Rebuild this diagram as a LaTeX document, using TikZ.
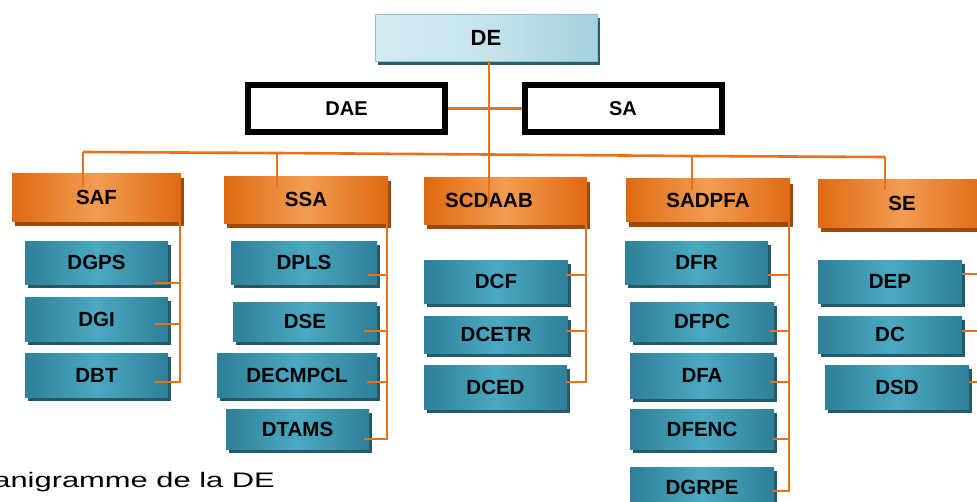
\documentclass[tikz,border=0pt]{standalone}
\usepackage{fontspec}
\setmainfont{Liberation Sans}
\usetikzlibrary{shadows,calc}

\definecolor{lineOrange}{HTML}{E8721B}
\definecolor{orgEdge}{HTML}{DF6A12}
\definecolor{orgMid}{HTML}{F39C52}
\definecolor{orgShadow}{HTML}{9A4A0B}
\definecolor{bluEdge}{HTML}{2E7F97}
\definecolor{bluMid}{HTML}{4BA9C3}
\definecolor{bluShadow}{HTML}{235A69}
\definecolor{deLeft}{HTML}{D4EBF2}
\definecolor{deRight}{HTML}{A4D2DE}
\definecolor{deBorder}{HTML}{8CC4D3}
\definecolor{deShadow}{HTML}{2A5E6C}

\begin{document}
\begin{tikzpicture}[x=1pt,y=-1pt,
  box/.style={inner sep=0pt, outer sep=0pt, text=black,
    font=\bfseries\fontsize{20.5}{24}\selectfont},
  headbox/.style={box, draw=deBorder, line width=1pt,
    left color=deLeft, right color=deRight, middle color=deLeft!70!deRight,
    general shadow={fill=deShadow, shadow xshift=3pt, shadow yshift=-4pt},
    font=\bfseries\fontsize{22}{26}\selectfont},
  staffbox/.style={box, draw=black, line width=6pt, fill=white,
    minimum width=197pt, minimum height=47pt,
    font=\bfseries\fontsize{20}{24}\selectfont},
  unitbox/.style={box, left color=orgEdge, right color=orgEdge, middle color=orgMid,
    general shadow={fill=orgShadow, shadow xshift=3pt, shadow yshift=-5pt}},
  divbox/.style={box, left color=bluEdge, right color=bluEdge, middle color=bluMid,
    general shadow={fill=bluShadow, shadow xshift=3pt, shadow yshift=-4pt}},
  branch/.style={draw=lineOrange, line width=2.6pt}
]
\useasboundingbox (0,0) rectangle (977,501);
\clip (0,0) rectangle (977,501);

% --- direction and staff
\node[headbox, minimum width=222pt, minimum height=47pt] (de) at (486,37.5) {DE};
\node[staffbox] (dae) at (346.5,108.5) {DAE};
\node[staffbox] (sa) at (623,108.5) {SA};

% --- services
\node[unitbox, minimum width=169pt, minimum height=48pt] (saf) at (96.5,197) {SAF};
\node[unitbox, minimum width=164pt, minimum height=47pt] (ssa) at (306,199.5) {SSA};
\node[unitbox, minimum width=163pt, minimum height=47pt] (scdaab) at (505.5,200.5) {SCDAAB\hspace*{33pt}};
\node[unitbox, minimum width=164pt, minimum height=43pt] (sadpfa) at (708,200) {SADPFA};
\node[unitbox, minimum width=168pt, minimum height=48pt] (se) at (902,203) {SE};

% --- divisions under SAF
\node[divbox, minimum width=143pt, minimum height=43pt] (dgps) at (96.5,262.5) {DGPS};
\node[divbox, minimum width=143pt, minimum height=44pt] (dgi) at (96.5,319) {DGI};
\node[divbox, minimum width=143pt, minimum height=44pt] (dbt) at (96.5,375) {DBT};

% --- divisions under SSA
\node[divbox, minimum width=146pt, minimum height=43pt] (dpls) at (304,262.5) {DPLS};
\node[divbox, minimum width=144pt, minimum height=39pt] (dse) at (305,321.5) {DSE};
\node[divbox, minimum width=160pt, minimum height=44pt] (decmpcl) at (297,375) {DECMPCL};
\node[divbox, minimum width=143pt, minimum height=40pt] (dtams) at (297.5,429) {DTAMS};

% --- divisions under SCDAAB
\node[divbox, minimum width=144pt, minimum height=43pt] (dcf) at (496,281.5) {DCF};
\node[divbox, minimum width=144pt, minimum height=37pt] (dcetr) at (496,334.5) {DCETR};
\node[divbox, minimum width=143pt, minimum height=44pt] (dced) at (495.5,387) {DCED};

% --- divisions under SADPFA
\node[divbox, minimum width=143pt, minimum height=43pt] (dfr) at (696.5,262.5) {DFR};
\node[divbox, minimum width=144pt, minimum height=39pt] (dfpc) at (702,321.5) {DFPC};
\node[divbox, minimum width=144pt, minimum height=45pt] (dfa) at (702,375.5) {DFA};
\node[divbox, minimum width=144pt, minimum height=40pt] (dfenc) at (702,429) {DFENC};
\node[divbox, minimum width=144pt, minimum height=40pt] (dgrpe) at (702,487) {DGRPE};

% --- divisions under SE
\node[divbox, minimum width=144pt, minimum height=43pt] (dep) at (890,281.5) {DEP};
\node[divbox, minimum width=144pt, minimum height=37pt] (dc) at (890,334.5) {DC};
\node[divbox, minimum width=144pt, minimum height=44pt] (dsd) at (897,387) {DSD};

% --- caption (runs past the left edge)
\node[anchor=base east, inner sep=0pt, font=\fontsize{21}{25}\selectfont] (caption)
  at (275,487) {\scalebox{1.47}[1]{Organigramme de la DE}};

% --- trunk and staff link
\coordinate (trunkEnd) at (489,208);
\draw[branch] (de.south -| trunkEnd) -- (trunkEnd);
\draw[branch, shorten <=3pt, shorten >=3pt] (dae.east) -- (sa.west);

% --- horizontal bus and drops to the services
\coordinate (b1) at (83,152);
\coordinate (b2) at (277,153);
\coordinate (b3) at (489,154.5);
\coordinate (b4) at (692,156);
\coordinate (b5) at (885,157);
\coordinate (d1) at (83,187);
\coordinate (d2) at (277,187);
\coordinate (d4) at (692,190);
\coordinate (d5) at (885,190);
\draw[branch] (b1) -- (b2) -- (b3) -- (b4) -- (b5);
\draw[branch] (b1) -- (d1);
\draw[branch] (b2) -- (d2);
\draw[branch] (b4) -- (d4);
\draw[branch] (b5) -- (d5);

% --- side buses from each service to its divisions
\coordinate (cSAF) at ($(saf.south east)+(-1,0)$);
\draw[branch] (cSAF) |- ($(dgps.east)+(-13,20.5)$);
\draw[branch] (cSAF) |- ($(dgi.east)+(-13,5)$);
\draw[branch] (cSAF) |- ($(dbt.east)+(-13,7)$);

\coordinate (cSSA) at ($(ssa.south east)+(-1,0)$);
\draw[branch] (cSSA) |- ($(dpls.east)+(-9,12.5)$);
\draw[branch] (cSSA) |- ($(dse.east)+(-13,9.5)$);
\draw[branch] (cSSA) |- ($(decmpcl.east)+(-10,7)$);
\draw[branch] (cSSA) |- ($(dtams.east)+(-5,10)$);

\coordinate (cSCD) at ($(scdaab.south east)+(-1,0)$);
\draw[branch] (cSCD) |- ($(dcf.east)+(-2,-6.5)$);
\draw[branch] (cSCD) |- ($(dcetr.east)+(-2,-3.5)$);
\draw[branch] (cSCD) |- ($(dced.east)+(-1,-5)$);

\coordinate (cSAD) at ($(sadpfa.south east)+(-1,0)$);
\draw[branch] (cSAD) |- ($(dfr.east)+(0,12.5)$);
\draw[branch] (cSAD) |- ($(dfpc.east)+(-4,9.5)$);
\draw[branch] (cSAD) |- ($(dfa.east)+(-4,6.5)$);
\draw[branch] (cSAD) |- ($(dfenc.east)+(-1,10)$);
\draw[branch] (cSAD) |- ($(dgrpe.east)+(-1,4)$);

\coordinate (cSE) at ($(se.south east)+(-1,0)$);
\draw[branch] (cSE) |- ($(dep.east)+(0,-7.5)$);
\draw[branch] (cSE) |- ($(dc.east)+(0,-3.5)$);
\draw[branch] (cSE) |- ($(dsd.east)+(0,-5)$);
\end{tikzpicture}
\end{document}
